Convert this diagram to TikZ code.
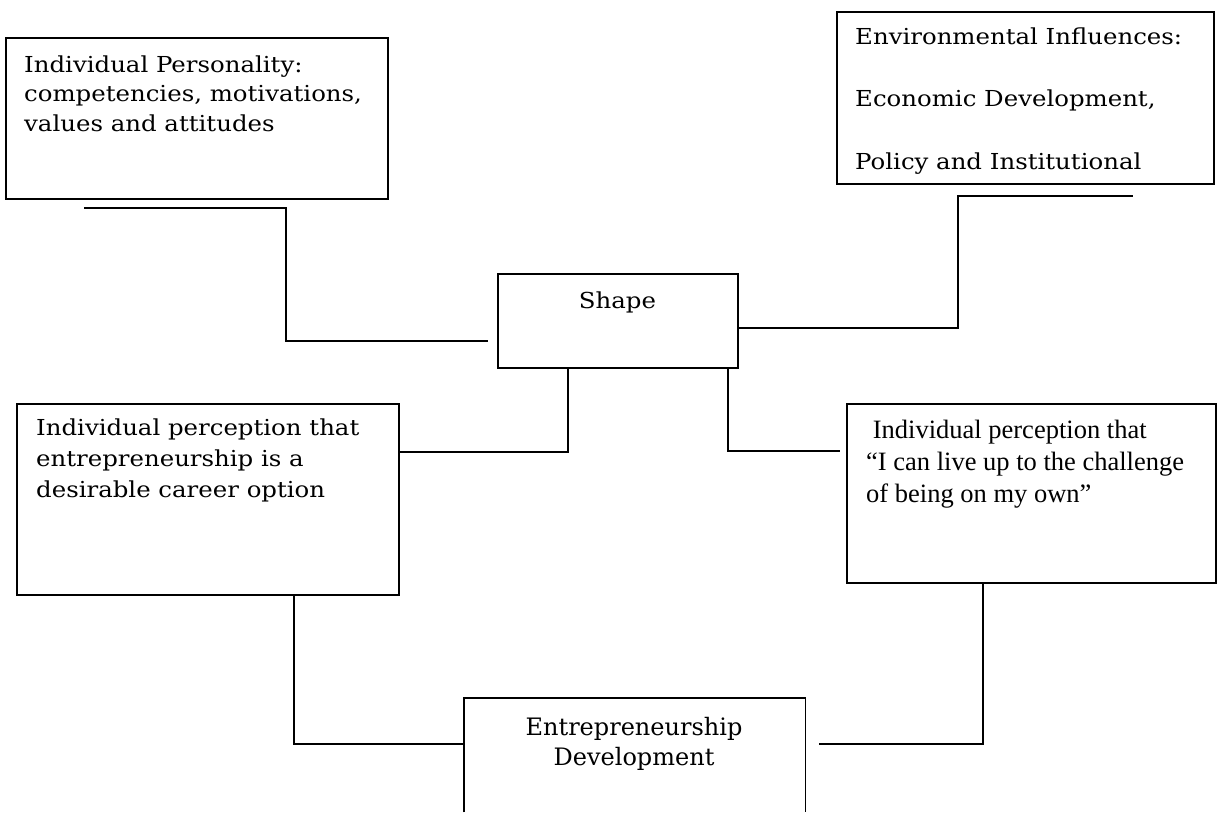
\documentclass[tikz,border=0pt]{standalone}
\usepackage{fontspec}
\setmainfont{DejaVu Serif}
\newfontfamily\bkf{DejaVu Serif}[FakeStretch=1.11]
\newfontfamily\timesf{Liberation Serif}
\begin{document}
\begin{tikzpicture}[x=1pt,y=-1pt,
  boxst/.style={draw=black, line width=1.5pt, rectangle, anchor=north west, inner sep=0pt},
  conn/.style={draw=black, line width=1.5pt},
  txt/.style={anchor=north west, inner sep=0pt, align=left, font=\bkf\fontsize{22}{29.5}\selectfont},
  ttxt/.style={anchor=north west, inner sep=0pt, align=left, font=\timesf\fontsize{26.5}{32}\selectfont}]
\useasboundingbox (0,0) rectangle (1217,812);
% boxes
\node[boxst, minimum width=382pt, minimum height=161pt] (ip) at (5,37) {};
\node[boxst, minimum width=377pt, minimum height=172pt] (env) at (836,11) {};
\node[boxst, minimum width=240pt, minimum height=94pt] (sh) at (497,273) {};
\node[boxst, minimum width=382pt, minimum height=191pt] (lp) at (16,403) {};
\node[boxst, minimum width=369pt, minimum height=179pt] (rp) at (846,403) {};
\node[draw=none, anchor=north west, inner sep=0pt, minimum width=341pt, minimum height=114pt] (ed) at (464,698) {};
\draw[conn] (ed.south west) -- (ed.north west) -- (ed.north east) -- (ed.south east);
% texts
\node[txt] (iptext) at (24,55.3) {Individual Personality:\\competencies, motivations,\\values and attitudes};
\node[txt, font=\bkf\fontsize{22}{62.5}\selectfont] (envtext) at (855,27.3) {Environmental Influences:\\Economic Development,\\Policy and Institutional};
\node[anchor=north, inner sep=0pt, font=\bkf\fontsize{22}{29.5}\selectfont] (shtext) at (617.5,291.3) {Shape};
\node[txt, font=\bkf\fontsize{22}{31}\selectfont] (lptext) at (36,418.3) {Individual perception that\\entrepreneurship is a\\desirable career option};
\node[ttxt] (rptext) at (866,419.9) {\ Individual perception that\\“I can live up to the challenge\\of being on my own”};
\node[anchor=north, inner sep=0pt, align=center, font=\fontsize{24}{30}\selectfont] (edtext) at (634,716.8) {Entrepreneurship\\Development};
% connectors
\coordinate (c1a) at (84,208);
\coordinate (c1b) at (488,341);
\draw[conn] (c1a) -| (286,341) -- (c1b);
\coordinate (c2s) at (737,328);
\coordinate (c2e) at (1133,196);
\draw[conn] (c2s) -- (958,328) |- (c2e);
\path (sh.south west) ++(71,0) coordinate (c3s);
\draw[conn] (c3s) |- (lp.east |- 0,452);
\path (sh.south west) ++(231,0) coordinate (c4s);
\coordinate (c4e) at (840,451);
\draw[conn] (c4s) |- (c4e);
\path (lp.south west) ++(278,0) coordinate (c5s);
\draw[conn] (c5s) |- (ed.west |- 0,744);
\path (rp.south west) ++(137,0) coordinate (c6s);
\coordinate (c6e) at (819,744);
\draw[conn] (c6s) |- (c6e);
\end{tikzpicture}
\end{document}
